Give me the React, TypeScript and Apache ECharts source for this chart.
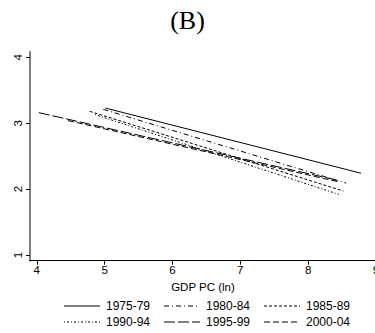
import React, { useEffect, useRef } from "react";
import * as echarts from "echarts";

const seriesNames = ["1975-79", "1980-84", "1985-89", "1990-94", "1995-99", "2000-04"];
const startX = [5.01, 4.98, 4.78, 4.86, 4.03, 4.46];
const startY = [3.23, 3.21, 3.18, 3.13, 3.16, 3.04];
const endX = [8.78, 8.56, 8.52, 8.45, 8.45, 8.45];
const endY = [2.24, 2.09, 1.97, 1.92, 2.13, 2.11];
const xTicks = [4, 5, 6, 7, 8, 9];
const yTicks = [1, 2, 3, 4];
const dashTypes: any[] = ["solid", [5, 3, 1, 3], [3, 2], [1, 2, 2, 2], [11, 3], [6, 3]];

export default function App() {
  const ref = useRef<HTMLDivElement>(null);
  useEffect(() => {
    if (!ref.current) return;
    const chart = echarts.init(ref.current, null, { renderer: "svg" });
    const font = "Liberation Sans";
    const colLeft = [64, 164, 264];
    const rowY = [306, 322];
    const legendEls: any[] = [];
    seriesNames.forEach((n, i) => {
      const col = i % 3;
      const row = Math.floor(i / 3);
      const x0 = colLeft[col];
      const y = rowY[row];
      const dash = dashTypes[i];
      legendEls.push({
        type: "line",
        shape: { x1: x0, y1: y, x2: x0 + 36, y2: y },
        style: { stroke: "#000", lineWidth: 1, lineDash: dash === "solid" ? null : dash },
        silent: true,
      });
      legendEls.push({
        type: "text",
        x: x0 + 42,
        y: y,
        style: { text: n, fill: "#000", font: `12px ${font}`, textVerticalAlign: "middle", verticalAlign: "middle" },
        silent: true,
      });
    });
    chart.setOption({
      animation: false,
      title: {
        text: "(B)",
        left: "center",
        top: 2,
        textStyle: { fontFamily: "Liberation Serif", fontSize: 26, fontWeight: "normal", color: "#000" },
      },
      graphic: legendEls,
      grid: { left: 30, top: 51.7, height: 209, width: 346, outerBoundsMode: "none", containLabel: false },
      xAxis: {
        type: "value",
        min: 3.9,
        max: 9.0,
        name: "GDP PC (ln)",
        nameLocation: "middle",
        nameGap: 19,
        nameTextStyle: { fontFamily: font, fontSize: 11.5, color: "#000" },
        axisLine: { show: true, onZero: false, lineStyle: { color: "#000", width: 1 } },
        axisTick: { show: true, length: 4, customValues: xTicks, lineStyle: { color: "#000" } },
        axisLabel: { customValues: xTicks, fontFamily: font, fontSize: 11.5, color: "#000", margin: 3 },
        splitLine: { show: false },
      },
      yAxis: {
        type: "value",
        min: 0.913,
        max: 4.085,
        axisLine: { show: true, lineStyle: { color: "#808080", width: 2 } },
        axisTick: { show: true, length: 4, customValues: yTicks, lineStyle: { color: "#000" } },
        axisLabel: { customValues: yTicks, rotate: 90, fontFamily: font, fontSize: 11.5, color: "#000", margin: 6 },
        splitLine: { show: false },
      },
      series: seriesNames.map((n, i) => ({
        name: n,
        type: "line",
        symbol: "none",
        data: [
          [startX[i], startY[i]],
          [endX[i], endY[i]],
        ],
        lineStyle: { color: "#000", width: 1, type: dashTypes[i] },
        itemStyle: { color: "#000" },
      })),
    });
    return () => chart.dispose();
  }, []);
  return <div ref={ref} style={{ width: 375, height: 333, position: "absolute", left: 0, top: 0 }} />;
}
